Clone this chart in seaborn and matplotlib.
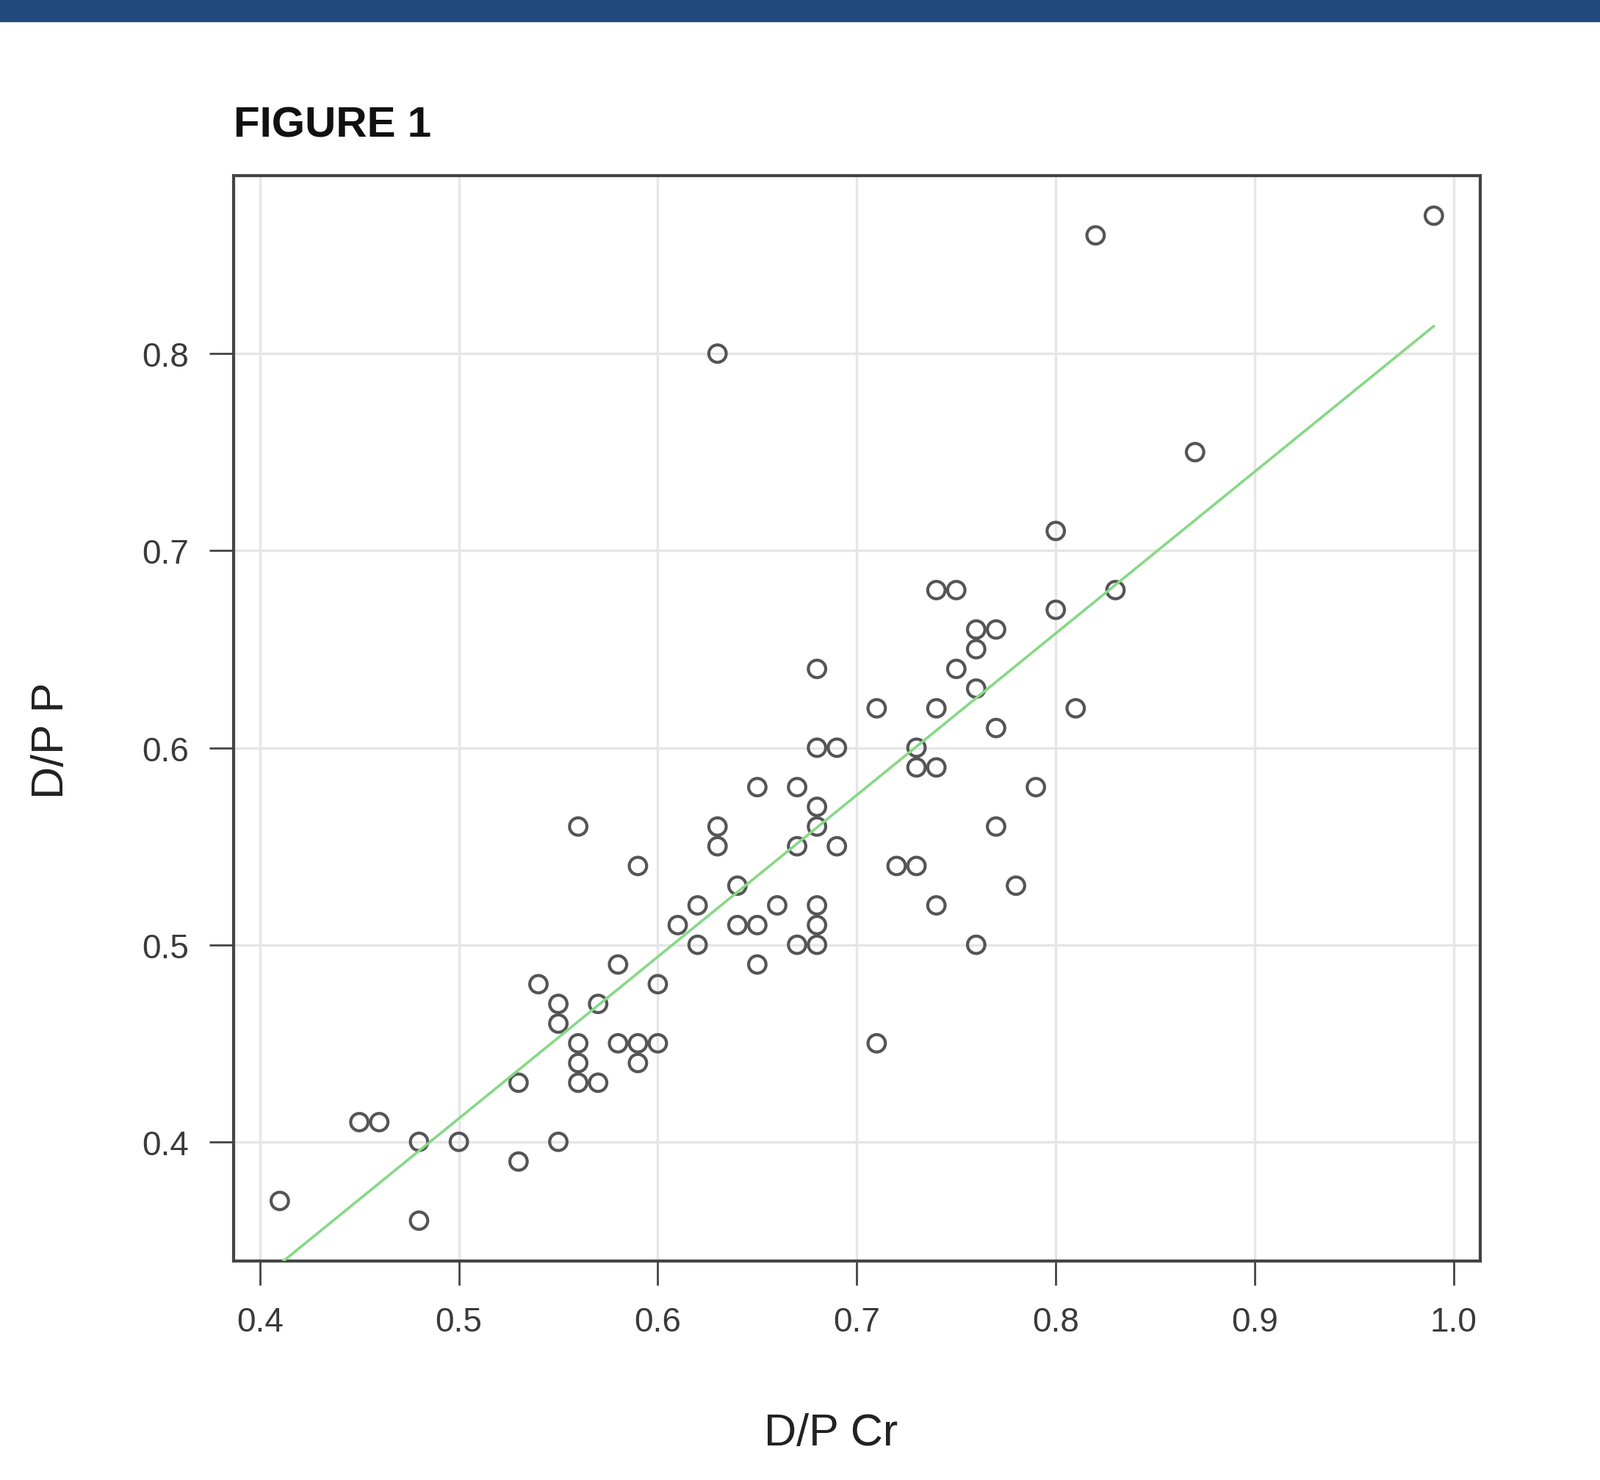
import matplotlib
matplotlib.use('Agg')
import matplotlib.pyplot as plt
import seaborn as sns
import pandas as pd

sns.set_style("white")
plt.rcParams['font.family'] = ['Liberation Sans', 'DejaVu Sans']

# D/P creatinine vs D/P phosphate
dp_cr = [0.41, 0.45, 0.46, 0.48, 0.48, 0.50, 0.53, 0.53, 0.54, 0.55,
         0.55, 0.55, 0.56, 0.56, 0.56, 0.57, 0.57, 0.56, 0.58, 0.58,
         0.59, 0.59, 0.60, 0.60, 0.59, 0.61, 0.62, 0.62, 0.63, 0.63,
         0.63, 0.64, 0.64, 0.65, 0.65, 0.65, 0.66, 0.67, 0.67, 0.67,
         0.68, 0.68, 0.68, 0.68, 0.68, 0.68, 0.68, 0.69, 0.69, 0.71,
         0.71, 0.72, 0.73, 0.73, 0.73, 0.74, 0.74, 0.74, 0.74, 0.75,
         0.75, 0.76, 0.76, 0.76, 0.76, 0.77, 0.77, 0.77, 0.78, 0.79,
         0.80, 0.80, 0.81, 0.82, 0.83, 0.87, 0.99]
dp_p = [0.37, 0.41, 0.41, 0.40, 0.36, 0.40, 0.43, 0.39, 0.48, 0.47,
        0.46, 0.40, 0.45, 0.44, 0.43, 0.43, 0.47, 0.56, 0.49, 0.45,
        0.45, 0.44, 0.45, 0.48, 0.54, 0.51, 0.52, 0.50, 0.56, 0.55,
        0.80, 0.53, 0.51, 0.51, 0.49, 0.58, 0.52, 0.50, 0.55, 0.58,
        0.50, 0.51, 0.52, 0.56, 0.57, 0.60, 0.64, 0.60, 0.55, 0.62,
        0.45, 0.54, 0.54, 0.60, 0.59, 0.59, 0.62, 0.52, 0.68, 0.68,
        0.64, 0.66, 0.65, 0.63, 0.50, 0.66, 0.61, 0.56, 0.53, 0.58,
        0.71, 0.67, 0.62, 0.86, 0.68, 0.75, 0.87]

x_ticks = [0.4, 0.5, 0.6, 0.7, 0.8, 0.9, 1.0]
x_tick_labels = ["0.4", "0.5", "0.6", "0.7", "0.8", "0.9", "1.0"]
y_ticks = [0.4, 0.5, 0.6, 0.7, 0.8]
y_tick_labels = ["0.4", "0.5", "0.6", "0.7", "0.8"]

df = pd.DataFrame({"cr": dp_cr, "p": dp_p})

fig = plt.figure(figsize=(21.78, 20.15), dpi=100)
ax = fig.add_axes([0.146, 0.148, 0.779, 0.733])

# blue banner along the top
fig.patches.append(plt.Rectangle((0, 0.985), 1, 0.015, transform=fig.transFigure,
                                 color="#204a7c", zorder=0))

ax.grid(True, color="#e6e6e6", linewidth=2.5)
ax.set_axisbelow(True)

sns.scatterplot(data=df, x="cr", y="p", ax=ax, marker="o", s=290,
                facecolors="none", edgecolor="#555555", linewidth=3.0, zorder=3)
sns.regplot(data=df, x="cr", y="p", ax=ax, scatter=False, ci=None, truncate=True,
            line_kws={"color": "#86d986", "linewidth": 2.6, "zorder": 4})

xr = max(dp_cr) - min(dp_cr)
yr = max(dp_p) - min(dp_p)
ax.set_xlim(min(dp_cr) - 0.04 * xr, max(dp_cr) + 0.04 * xr)
ax.set_ylim(min(dp_p) - 0.04 * yr, max(dp_p) + 0.04 * yr)

ax.set_xticks(x_ticks)
ax.set_xticklabels(x_tick_labels)
ax.set_yticks(y_ticks)
ax.set_yticklabels(y_tick_labels)
ax.tick_params(axis="both", direction="out", length=24, width=2, color="#444444",
               labelsize=33, labelcolor="#3a3a3a", pad=20, left=True, bottom=True)

for s in ax.spines.values():
    s.set_color("#444444")
    s.set_linewidth(3)

ax.set_xlabel("D/P Cr", fontsize=44, color="#222222", va="center")
ax.set_ylabel("D/P P", fontsize=44, color="#222222", va="center")
ax.xaxis.set_label_coords(0.479, -0.159)
ax.yaxis.set_label_coords(-0.146, 0.48)

fig.text(0.146, 0.915, "FIGURE 1", fontsize=42, fontweight="bold", color="#111111",
         ha="left", va="center")

plt.savefig("out.png", dpi=100)
